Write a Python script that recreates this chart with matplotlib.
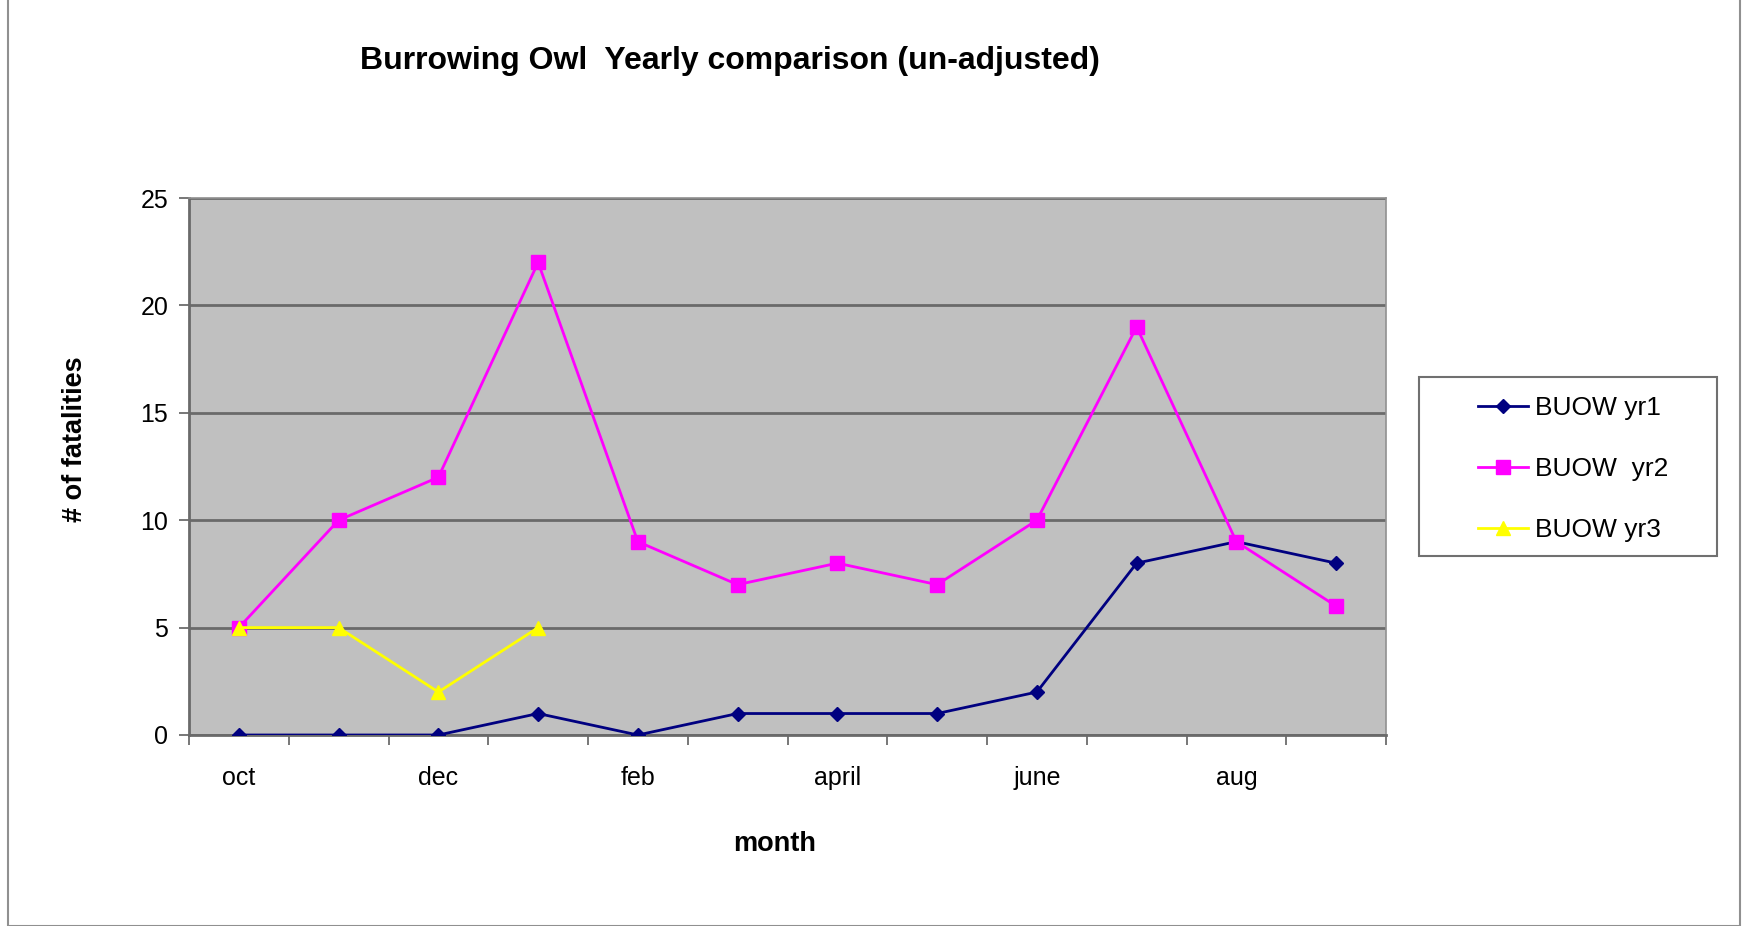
import matplotlib
matplotlib.use("Agg")
import matplotlib.pyplot as plt
from matplotlib.patches import Rectangle
import numpy as np

months = ["oct", "nov", "dec", "jan", "feb", "mar", "april", "may", "june", "jul", "aug", "sep"]
shown_labels = ["oct", "", "dec", "", "feb", "", "april", "", "june", "", "aug", ""]
yr1 = [0, 0, 0, 1, 0, 1, 1, 1, 2, 8, 9, 8]
yr2 = [5, 10, 12, 22, 9, 7, 8, 7, 10, 19, 9, 6]
yr3 = [5, 5, 2, 5]
series_names = ["BUOW yr1", "BUOW  yr2", "BUOW yr3"]

plt.rcParams['font.family'] = ['Liberation Sans', 'DejaVu Sans']

W, H = 1745, 926
fig = plt.figure(figsize=(W/100, H/100), dpi=100)
fig.patch.set_facecolor('white')

# outer chart border
fig.add_artist(Rectangle((8/W, 0), (1740-8)/W, (H-6)/H + 0.01, transform=fig.transFigure,
                         fill=False, edgecolor='#909090', linewidth=1.5))

L, R, T, B = 189, 1386, 198, 735
ax = fig.add_axes([L/W, 1-B/H, (R-L)/W, (B-T)/H])
ax.set_facecolor('#C0C0C0')

x = np.arange(len(months))
ax.plot(x, yr1, color='#000080', marker='D', markersize=7.5, linewidth=2.0, label=series_names[0], zorder=3)
ax.plot(x, yr2, color='#FF00FF', marker='s', markersize=10, linewidth=2.0, label=series_names[1], zorder=3)
ax.plot(x[:len(yr3)], yr3, color='#FFFF00', marker='^', markersize=10.5, linewidth=2.0, label=series_names[2], zorder=3)

ax.set_xlim(-0.5, len(months) - 0.5)
ax.set_ylim(0, 25)
ax.set_yticks([0, 5, 10, 15, 20, 25])
ax.yaxis.grid(True, color='#6A6A6A', linewidth=2.0)
ax.set_axisbelow(True)

ax.set_xticks(x)
ax.set_xticklabels(shown_labels)
ax.set_xticks(np.arange(-0.5, len(months)), minor=True)
ax.tick_params(axis='x', which='major', length=0, pad=22, labelsize=18)
ax.tick_params(axis='x', which='minor', length=7, width=1.2, color='#606060', direction='out')
ax.tick_params(axis='y', length=7, width=1.2, color='#606060', labelsize=18, pad=8)

for side in ['left', 'bottom']:
    ax.spines[side].set_color('#6A6A6A')
    ax.spines[side].set_linewidth(2.0)
for side in ['top', 'right']:
    ax.spines[side].set_color('#909090')
    ax.spines[side].set_linewidth(1.2)

ax.set_xlabel("month", fontsize=19.5, fontweight='bold', labelpad=30, x=0.489)
ax.set_ylabel("# of fatalities", fontsize=19.5, fontweight='bold', labelpad=38, y=0.55)

fig.text(730/W, 1-61/H, "Burrowing Owl  Yearly comparison (un-adjusted)", ha='center', va='center',
         fontsize=23, fontweight='bold')

# legend frame
fig.add_artist(Rectangle((1419/W, 1-556/H), (1717-1419)/W, (556-377)/H, transform=fig.transFigure,
                         facecolor='white', edgecolor='#707070', linewidth=1.5))
leg = fig.legend(loc='upper left', bbox_to_anchor=(1478/W, 1-396/H), frameon=False,
                 fontsize=19, handlelength=1.9, labelspacing=1.4,
                 borderpad=0, borderaxespad=0, handletextpad=0.25)

fig.savefig("out.png", dpi=100)
